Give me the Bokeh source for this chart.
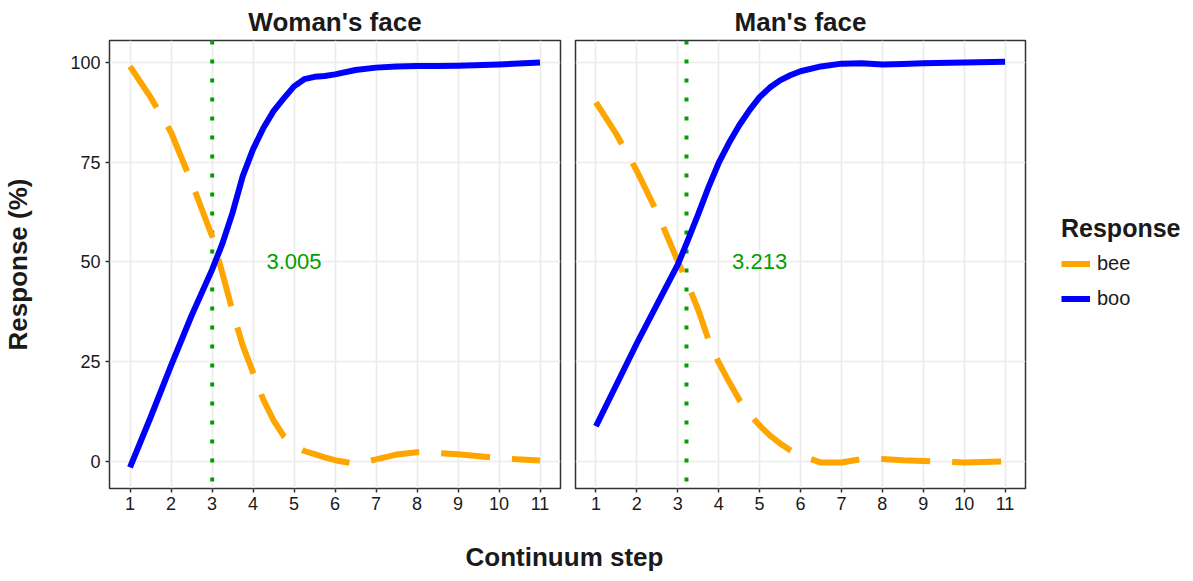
from bokeh.plotting import figure
from bokeh.models import Range1d, FixedTicker, Span, Legend, LegendItem, Grid
from bokeh.layouts import row, column
from bokeh.embed import file_html
from bokeh.resources import INLINE
from bokeh.core.properties import value

# ---------------- data ----------------
steps = [1, 1.5, 2, 2.5, 3, 3.25, 3.5, 3.75, 4, 4.25, 4.5, 4.75, 5, 5.25, 5.5, 5.75,
         6, 6.5, 7, 7.5, 8, 8.5, 9, 10, 11]
panels = ["Woman's face", "Man's face"]
woman_bee = [99, 91.3, 82.5, 70, 56.5, 47.3, 37.7, 29, 22.3, 15.5, 10.3, 6.3, 4.0, 2.6,
             1.8, 1.0, 0.3, -0.6, 0.5, 1.7, 2.3, 2.1, 1.8, 0.8, 0.2]
woman_boo = [-1.5, 11, 24, 36.5, 48, 54.5, 62.3, 71.5, 78.2, 83.5, 87.8, 91, 94, 95.8,
             96.4, 96.6, 97, 98.1, 98.7, 99, 99.1, 99.1, 99.2, 99.5, 100]
man_bee = [90, 82, 72.8, 62.3, 50.2, 44.3, 38, 30.5, 24.8, 20, 15.5, 12, 9, 6.5,
           4.5, 2.8, 1.5, -0.3, -0.3, 0.6, 0.6, 0.3, 0.1, -0.3, 0]
man_boo = [8.8, 19.2, 29.6, 39.5, 49.3, 55.5, 62, 68.7, 74.8, 79.8, 84.2, 88, 91.3, 93.7,
           95.5, 96.8, 97.8, 99, 99.7, 99.8, 99.5, 99.6, 99.8, 100, 100.2]
thresholds = [3.005, 3.213]
series_names = ["bee", "boo"]
legend_title = "Response"
x_ticks = list(range(1, 12))
y_ticks = [0, 25, 50, 75, 100]
label_x, label_y = 5, 50

FONT = "Liberation Sans"
ORANGE = "#FFA500"
BLUE = "#0000FF"
GREEN = "#00A000"
GRID = "#EBEBEB"
DARK = "#333333"
TXT = "#1A1A1A"
BEE_DASH = "49 22"
BOTTOM = 45
PANEL_H = 32 + 448 + BOTTOM


def make_panel(title, bee, boo, thr, first):
    kw = dict(
        frame_height=448,
        x_range=Range1d(0.5, 11.5),
        y_range=Range1d(-6.8, 105.5),
        output_backend="svg",
        toolbar_location=None,
        title=title,
        min_border_top=32,
        min_border_bottom=BOTTOM,
        background_fill_color="white",
        border_fill_color="white",
    )
    if first:
        kw.update(frame_width=451, min_border_left=106, min_border_right=6)
    else:
        kw.update(frame_width=450, min_border_left=9, min_border_right=4, y_axis_location=None)
    p = figure(**kw)

    p.title.align = "center"
    p.title.text_font = FONT
    p.title.text_font_size = "26px"
    p.title.text_font_style = "bold"
    p.title.text_color = TXT
    p.title.standoff = 8

    p.outline_line_color = DARK
    p.outline_line_width = 1.5

    p.xaxis.ticker = FixedTicker(ticks=x_ticks)
    if first:
        p.yaxis.ticker = FixedTicker(ticks=y_ticks)
        p.yaxis.axis_label = "Response (%)"
        p.yaxis.axis_label_text_font = FONT
        p.yaxis.axis_label_text_font_size = "26px"
        p.yaxis.axis_label_text_font_style = "bold"
        p.yaxis.axis_label_text_color = TXT
        p.yaxis.axis_label_standoff = 34
    for ax in p.xaxis + p.yaxis:
        ax.axis_line_color = None
        ax.major_tick_line_color = DARK
        ax.major_tick_line_width = 1.5
        ax.major_tick_in = 0
        ax.major_tick_out = 4
        ax.minor_tick_line_color = None
        ax.major_label_text_font = FONT
        ax.major_label_text_font_size = "18px"
        ax.major_label_text_color = TXT
    p.xaxis.major_label_standoff = 4
    p.yaxis.major_label_standoff = 5

    for g in p.xgrid:
        g.ticker = FixedTicker(ticks=x_ticks)
    if len(p.ygrid) == 0:
        p.add_layout(Grid(dimension=1, ticker=FixedTicker(ticks=y_ticks)), "center")
    for g in p.ygrid:
        g.ticker = FixedTicker(ticks=y_ticks)
    for g in p.xgrid + p.ygrid:
        g.grid_line_color = GRID
        g.grid_line_width = 1.6
        g.minor_grid_line_color = None

    span = Span(location=thr, dimension="height", line_color=GREEN,
                line_width=4, line_dash="4 15", level="underlay")
    p.add_layout(span)

    p.line(steps, bee, line_color=ORANGE, line_width=6, line_dash=BEE_DASH)
    p.line(steps, boo, line_color=BLUE, line_width=6, line_join="round")

    p.text(x=[label_x], y=[label_y], text=[f"{thr:.3f}"], text_align="center",
           text_baseline="middle", text_font=value(FONT), text_font_size="22px",
           text_color=GREEN)
    return p


p1 = make_panel(panels[0], woman_bee, woman_boo, thresholds[0], True)
p2 = make_panel(panels[1], man_bee, man_boo, thresholds[1], False)

# legend figure (its key lines lie outside its visible range; only the legend shows)
pleg = figure(width=155, height=PANEL_H, x_range=Range1d(0, 1), y_range=Range1d(1000, 1001),
              output_backend="svg", toolbar_location=None, x_axis_location=None,
              y_axis_location=None, min_border=0, outline_line_color=None)
pleg.grid.visible = False
r_bee = pleg.line(steps, man_bee, line_color=ORANGE, line_width=6, line_dash=BEE_DASH)
r_boo = pleg.line(steps, man_boo, line_color=BLUE, line_width=6)
legend = Legend(
    items=[LegendItem(label=series_names[0], renderers=[r_bee]),
           LegendItem(label=series_names[1], renderers=[r_boo])],
    location=(32, 170),
    title=legend_title,
    title_text_font=FONT, title_text_font_size="25px", title_text_font_style="bold",
    title_text_color=TXT, title_standoff=9,
    label_text_font=FONT, label_text_font_size="20px", label_text_color=TXT,
    glyph_width=29, glyph_height=23, label_height=23, label_standoff=7,
    spacing=12, padding=0, margin=0,
    border_line_color=None, background_fill_alpha=0,
)
pleg.add_layout(legend)

# shared x-axis title
BOT_H = 565 - PANEL_H
pbot = figure(width=1181, height=BOT_H, x_range=Range1d(0, 1181), y_range=Range1d(0, BOT_H),
              output_backend="svg", toolbar_location=None, x_axis_location=None,
              y_axis_location=None, min_border=0, outline_line_color=None)
pbot.grid.visible = False
pbot.text(x=[564], y=[17], text=["Continuum step"], text_align="center",
          text_baseline="alphabetic", text_font=value(FONT), text_font_size="26px",
          text_font_style="bold", text_color=TXT)

layout = column(row(p1, p2, pleg), pbot)
open("out.html", "w").write(file_html(layout, INLINE))
